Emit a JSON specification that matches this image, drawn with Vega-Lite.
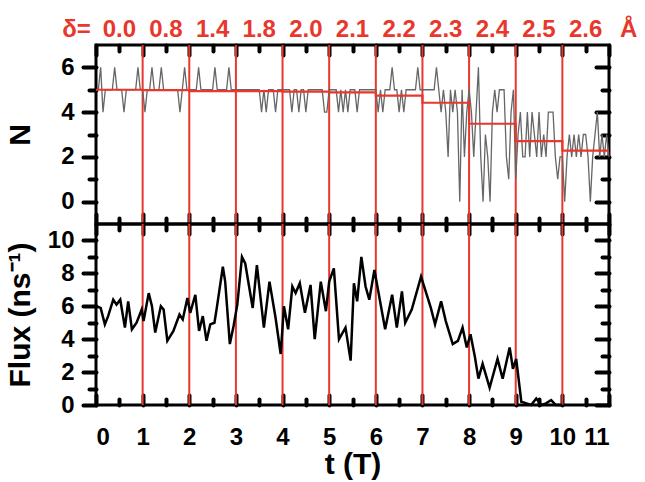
{
"$schema": "https://vega.github.io/schema/vega-lite/v6.json",
"padding": {"left": 3, "top": 16, "right": 5, "bottom": 3},
"background": "white",
"spacing": 0,
"bounds": "flush",
"config": {
  "view": {"stroke": "black", "strokeWidth": 3},
  "axis": {"domain": false, "grid": false, "ticks": true, "tickOpacity": 1, "tickColor": "black", "tickWidth": 4, "tickCap": "round", "labelFont": "Liberation Sans", "labelFontWeight": "bold", "labelFontSize": 24, "labelColor": "black", "titleFont": "Liberation Sans", "titleFontWeight": "bold", "titleFontSize": 30, "titleColor": "black", "zindex": 1}
},
"datasets": {
  "vl": [{"t":1},{"t":2},{"t":3},{"t":4},{"t":5},{"t":6},{"t":7},{"t":8},{"t":9},{"t":10}],
  "avg": [{"t":0,"v":5.0},{"t":1,"v":4.98},{"t":2,"v":4.94},{"t":3,"v":4.94},{"t":4,"v":4.92},{"t":5,"v":4.88},{"t":6,"v":4.74},{"t":7,"v":4.42},{"t":8,"v":3.48},{"t":9,"v":2.7},{"t":10,"v":2.28},{"t":11,"v":2.28}],
  "delta": [{"t":-0.42,"label":"δ="},{"t":0.5,"label":"0.0"},{"t":1.5,"label":"0.8"},{"t":2.5,"label":"1.4"},{"t":3.5,"label":"1.8"},{"t":4.5,"label":"2.0"},{"t":5.5,"label":"2.1"},{"t":6.5,"label":"2.2"},{"t":7.5,"label":"2.3"},{"t":8.5,"label":"2.4"},{"t":9.5,"label":"2.5"},{"t":10.5,"label":"2.6"},{"t":11.42,"label":"Å"}],
  "n": [{"t":0,"N":5},{"t":0.05,"N":5},{"t":0.1,"N":6},{"t":0.15,"N":4},{"t":0.2,"N":5},{"t":0.25,"N":5},{"t":0.3,"N":5},{"t":0.35,"N":5},{"t":0.4,"N":6},{"t":0.45,"N":5},{"t":0.5,"N":5},{"t":0.55,"N":5},{"t":0.6,"N":4},{"t":0.65,"N":5},{"t":0.7,"N":5},{"t":0.75,"N":5},{"t":0.8,"N":5},{"t":0.85,"N":5},{"t":0.9,"N":6},{"t":0.95,"N":5},
{"t":1,"N":5},{"t":1.05,"N":4},{"t":1.1,"N":5},{"t":1.15,"N":5},{"t":1.2,"N":6},{"t":1.25,"N":5},{"t":1.3,"N":5},{"t":1.35,"N":5},{"t":1.4,"N":6},{"t":1.45,"N":5},{"t":1.5,"N":5},{"t":1.55,"N":5},{"t":1.6,"N":5},{"t":1.65,"N":5},{"t":1.7,"N":5},{"t":1.75,"N":5},{"t":1.8,"N":4},{"t":1.85,"N":5},{"t":1.9,"N":6},{"t":1.95,"N":5},
{"t":2,"N":5},{"t":2.05,"N":5},{"t":2.1,"N":5},{"t":2.15,"N":5},{"t":2.2,"N":6},{"t":2.25,"N":5},{"t":2.3,"N":5},{"t":2.35,"N":5},{"t":2.4,"N":5},{"t":2.45,"N":5},{"t":2.5,"N":5},{"t":2.55,"N":6},{"t":2.6,"N":5},{"t":2.65,"N":5},{"t":2.7,"N":5},{"t":2.75,"N":5},{"t":2.8,"N":5},{"t":2.85,"N":6},{"t":2.9,"N":5},{"t":2.95,"N":5},
{"t":3,"N":5},{"t":3.05,"N":5},{"t":3.1,"N":5},{"t":3.15,"N":5},{"t":3.2,"N":5},{"t":3.25,"N":5},{"t":3.3,"N":5},{"t":3.35,"N":5},{"t":3.4,"N":5},{"t":3.45,"N":5},{"t":3.5,"N":5},{"t":3.55,"N":4},{"t":3.6,"N":5},{"t":3.65,"N":4},{"t":3.7,"N":5},{"t":3.75,"N":5},{"t":3.8,"N":5},{"t":3.85,"N":4},{"t":3.9,"N":5},{"t":3.95,"N":5},
{"t":4,"N":5},{"t":4.05,"N":5},{"t":4.1,"N":5},{"t":4.15,"N":5},{"t":4.2,"N":4},{"t":4.25,"N":5},{"t":4.3,"N":5},{"t":4.35,"N":4},{"t":4.4,"N":5},{"t":4.45,"N":5},{"t":4.5,"N":4},{"t":4.55,"N":5},{"t":4.6,"N":5},{"t":4.65,"N":5},{"t":4.7,"N":5},{"t":4.75,"N":5},{"t":4.8,"N":5},{"t":4.85,"N":5},{"t":4.9,"N":4},{"t":4.95,"N":4},
{"t":5,"N":5},{"t":5.05,"N":5},{"t":5.1,"N":5},{"t":5.15,"N":5},{"t":5.2,"N":4},{"t":5.25,"N":5},{"t":5.3,"N":4},{"t":5.35,"N":5},{"t":5.4,"N":4},{"t":5.45,"N":5},{"t":5.5,"N":5},{"t":5.55,"N":5},{"t":5.6,"N":4},{"t":5.65,"N":5},{"t":5.7,"N":5},{"t":5.75,"N":5},{"t":5.8,"N":5},{"t":5.85,"N":5},{"t":5.9,"N":5},{"t":5.95,"N":5},
{"t":6,"N":5},{"t":6.05,"N":4},{"t":6.1,"N":5},{"t":6.15,"N":4},{"t":6.2,"N":5},{"t":6.25,"N":5},{"t":6.3,"N":5},{"t":6.35,"N":6},{"t":6.4,"N":5},{"t":6.45,"N":5},{"t":6.5,"N":4},{"t":6.55,"N":5},{"t":6.6,"N":4},{"t":6.65,"N":5},{"t":6.7,"N":5},{"t":6.75,"N":5},{"t":6.8,"N":5},{"t":6.85,"N":5},{"t":6.9,"N":6},{"t":6.95,"N":5},
{"t":7,"N":5},{"t":7.05,"N":5},{"t":7.1,"N":5},{"t":7.15,"N":5},{"t":7.2,"N":5},{"t":7.25,"N":5},{"t":7.3,"N":6},{"t":7.35,"N":5},{"t":7.4,"N":4},{"t":7.45,"N":5},{"t":7.5,"N":4},{"t":7.55,"N":2},{"t":7.6,"N":5},{"t":7.65,"N":4},{"t":7.7,"N":5},{"t":7.75,"N":4},{"t":7.8,"N":0},{"t":7.85,"N":5},{"t":7.9,"N":2},{"t":7.95,"N":4},
{"t":8,"N":5},{"t":8.05,"N":4},{"t":8.1,"N":2},{"t":8.15,"N":4},{"t":8.2,"N":6},{"t":8.25,"N":2},{"t":8.3,"N":0},{"t":8.35,"N":3},{"t":8.4,"N":2},{"t":8.45,"N":0},{"t":8.5,"N":4},{"t":8.55,"N":5},{"t":8.6,"N":4},{"t":8.65,"N":5},{"t":8.7,"N":5},{"t":8.75,"N":5},{"t":8.8,"N":2},{"t":8.85,"N":1},{"t":8.9,"N":4},{"t":8.95,"N":5},
{"t":9,"N":1},{"t":9.05,"N":3},{"t":9.1,"N":4},{"t":9.15,"N":2},{"t":9.2,"N":2},{"t":9.25,"N":4},{"t":9.3,"N":2},{"t":9.35,"N":4},{"t":9.4,"N":3},{"t":9.45,"N":2},{"t":9.5,"N":4},{"t":9.55,"N":2},{"t":9.6,"N":3},{"t":9.65,"N":2},{"t":9.7,"N":4},{"t":9.75,"N":4},{"t":9.8,"N":4},{"t":9.85,"N":2},{"t":9.9,"N":1},{"t":9.95,"N":2},
{"t":10,"N":2},{"t":10.05,"N":0},{"t":10.1,"N":2},{"t":10.15,"N":3},{"t":10.2,"N":2},{"t":10.25,"N":3},{"t":10.3,"N":2},{"t":10.35,"N":3},{"t":10.4,"N":2},{"t":10.45,"N":3},{"t":10.5,"N":3},{"t":10.55,"N":2},{"t":10.6,"N":0},{"t":10.65,"N":2},{"t":10.7,"N":3},{"t":10.75,"N":4},{"t":10.8,"N":2},{"t":10.85,"N":3},{"t":10.9,"N":2},{"t":10.95,"N":3},{"t":11,"N":2}],
  "flux": [{"t":0,"F":6.0},{"t":0.1,"F":5.9},{"t":0.19,"F":4.9},{"t":0.26,"F":5.4},{"t":0.37,"F":6.4},{"t":0.44,"F":6.1},{"t":0.52,"F":6.4},{"t":0.62,"F":4.7},{"t":0.69,"F":6.3},{"t":0.77,"F":4.6},{"t":0.87,"F":5.0},{"t":0.98,"F":5.8},{"t":1.02,"F":5.1},{"t":1.13,"F":6.8},{"t":1.2,"F":6.0},{"t":1.27,"F":4.4},{"t":1.39,"F":6.0},{"t":1.45,"F":5.8},{"t":1.53,"F":3.9},{"t":1.66,"F":4.5},{"t":1.79,"F":5.5},{"t":1.86,"F":5.2},{"t":1.96,"F":6.5},{"t":2.02,"F":5.6},{"t":2.13,"F":6.7},{"t":2.21,"F":4.5},{"t":2.29,"F":5.4},{"t":2.37,"F":3.9},{"t":2.45,"F":4.9},{"t":2.54,"F":5.0},{"t":2.59,"F":5.9},{"t":2.72,"F":8.4},{"t":2.77,"F":7.5},{"t":2.87,"F":3.7},{"t":2.95,"F":4.8},{"t":3.03,"F":6.1},{"t":3.13,"F":9.0},{"t":3.2,"F":8.6},{"t":3.36,"F":5.9},{"t":3.45,"F":8.5},{"t":3.6,"F":4.7},{"t":3.72,"F":7.5},{"t":3.85,"F":5.3},{"t":3.96,"F":3.1},{"t":4.03,"F":6.0},{"t":4.12,"F":4.6},{"t":4.21,"F":7.2},{"t":4.28,"F":6.8},{"t":4.37,"F":7.4},{"t":4.48,"F":5.6},{"t":4.6,"F":7.3},{"t":4.69,"F":4.0},{"t":4.82,"F":7.5},{"t":4.93,"F":5.7},{"t":5.0,"F":7.5},{"t":5.1,"F":8.3},{"t":5.21,"F":4.0},{"t":5.35,"F":4.7},{"t":5.46,"F":2.7},{"t":5.53,"F":7.4},{"t":5.6,"F":6.3},{"t":5.69,"F":9.0},{"t":5.78,"F":7.2},{"t":5.86,"F":6.4},{"t":5.97,"F":8.2},{"t":6.2,"F":4.6},{"t":6.35,"F":6.7},{"t":6.45,"F":4.7},{"t":6.56,"F":6.9},{"t":6.63,"F":5.0},{"t":6.77,"F":5.8},{"t":6.97,"F":7.8},{"t":7.18,"F":5.9},{"t":7.27,"F":4.9},{"t":7.4,"F":6.3},{"t":7.5,"F":5.1},{"t":7.65,"F":3.7},{"t":7.76,"F":3.9},{"t":7.86,"F":4.7},{"t":7.95,"F":3.5},{"t":8.03,"F":4.3},{"t":8.12,"F":3.0},{"t":8.2,"F":1.6},{"t":8.29,"F":2.5},{"t":8.44,"F":1.05},{"t":8.61,"F":2.8},{"t":8.72,"F":1.6},{"t":8.87,"F":3.5},{"t":8.94,"F":2.2},{"t":9.01,"F":2.8},{"t":9.12,"F":0.2},{"t":9.23,"F":0.1},{"t":9.33,"F":0.0},{"t":9.44,"F":0.4},{"t":9.55,"F":0.0},{"t":9.65,"F":0.1},{"t":9.76,"F":0.3},{"t":9.86,"F":0.0},{"t":10.0,"F":0.0}]
},
"vconcat": [
 {
  "width": 513, "height": 179,
  "resolve": {"axis": {"x": "independent", "y": "independent"}},
  "layer": [
   {"data": {"name": "vl"}, "mark": {"type": "rule", "color": "#e8372c", "strokeWidth": 2},
    "encoding": {
     "x": {"field": "t", "type": "quantitative", "scale": {"domain": [0, 11], "nice": false}, "axis": {"orient": "top", "values": [0,1,2,3,4,5,6,7,8,9,10,11], "tickSize": -10, "labels": false, "title": null}},
     "y": {"datum": -1, "type": "quantitative", "scale": {"domain": [-1, 7], "nice": false}, "axis": {"orient": "right", "values": [0,2,4,6], "tickSize": -13, "labels": false, "title": null}},
     "y2": {"datum": 7}
    }},
   {"data": {"name": "n"}, "mark": {"type": "line", "color": "#666666", "strokeWidth": 1.3},
    "encoding": {
     "x": {"field": "t", "type": "quantitative", "axis": {"orient": "bottom", "values": [0,1,2,3,4,5,6,7,8,9,10,11], "tickSize": -10, "labels": false, "title": null}},
     "y": {"field": "N", "type": "quantitative", "axis": {"orient": "left", "values": [0,2,4,6], "tickSize": 13, "labelPadding": 9, "title": "N", "titlePadding": 25}}
    }},
   {"data": {"name": "avg"}, "mark": {"type": "line", "color": "#e8372c", "strokeWidth": 2.2, "interpolate": "step-after"},
    "encoding": {
     "x": {"field": "t", "type": "quantitative", "axis": {"orient": "bottom", "values": [0.5,1.5,2.5,3.5,4.5,5.5,6.5,7.5,8.5,9.5,10.5], "tickSize": -6, "labels": false, "title": null}},
     "y": {"field": "v", "type": "quantitative", "axis": {"orient": "left", "values": [1,3,5], "tickSize": 7, "labels": false, "title": null}}
    }},
   {"data": {"name": "delta"}, "mark": {"type": "text", "color": "#e8372c", "font": "Liberation Sans", "fontWeight": "bold", "fontSize": 24, "baseline": "alphabetic"},
    "encoding": {
     "x": {"field": "t", "type": "quantitative", "axis": {"orient": "top", "values": [0.5,1.5,2.5,3.5,4.5,5.5,6.5,7.5,8.5,9.5,10.5], "tickSize": -6, "labels": false, "title": null}},
     "y": {"datum": 7.35, "type": "quantitative", "axis": {"orient": "right", "values": [1,3,5], "tickSize": -7, "labels": false, "title": null}},
     "text": {"field": "label"}
    }}
  ]
 },
 {
  "width": 513, "height": 181,
  "resolve": {"axis": {"x": "independent", "y": "independent"}},
  "layer": [
   {"data": {"name": "vl"}, "mark": {"type": "rule", "color": "#e8372c", "strokeWidth": 2},
    "encoding": {
     "x": {"field": "t", "type": "quantitative", "scale": {"domain": [0, 11], "nice": false}, "axis": {"orient": "top", "values": [0,1,2,3,4,5,6,7,8,9,10,11], "tickSize": -10, "labels": false, "title": null}},
     "y": {"datum": 0, "type": "quantitative", "scale": {"domain": [0, 11], "nice": false}, "axis": {"orient": "right", "values": [0,2,4,6,8,10], "tickSize": -13, "labels": false, "title": null}},
     "y2": {"datum": 11}
    }},
   {"data": {"name": "flux"}, "mark": {"type": "line", "color": "black", "strokeWidth": 2.5},
    "encoding": {
     "x": {"field": "t", "type": "quantitative", "axis": {"orient": "bottom", "values": [0,1,2,3,4,5,6,7,8,9,10,11], "tickSize": -10, "labelPadding": 30, "title": "t (T)", "titlePadding": 0}},
     "y": {"field": "F", "type": "quantitative", "axis": {"orient": "left", "values": [0,2,4,6,8,10], "tickSize": 13, "labelPadding": 9, "title": "Flux (ns⁻¹)", "titlePadding": 12}}
    }},
   {"data": {"name": "vl"}, "mark": {"type": "rule", "strokeOpacity": 0},
    "encoding": {
     "x": {"field": "t", "type": "quantitative", "axis": {"orient": "bottom", "values": [0.5,1.5,2.5,3.5,4.5,5.5,6.5,7.5,8.5,9.5,10.5], "tickSize": -6, "labels": false, "title": null}},
     "y": {"datum": 0, "type": "quantitative", "axis": {"orient": "left", "values": [1,3,5,7,9], "tickSize": 7, "labels": false, "title": null}},
     "y2": {"datum": 11}
    }},
   {"data": {"name": "vl"}, "mark": {"type": "rule", "strokeOpacity": 0},
    "encoding": {
     "x": {"field": "t", "type": "quantitative", "axis": {"orient": "top", "values": [0.5,1.5,2.5,3.5,4.5,5.5,6.5,7.5,8.5,9.5,10.5], "tickSize": -6, "labels": false, "title": null}},
     "y": {"datum": 0, "type": "quantitative", "axis": {"orient": "right", "values": [1,3,5,7,9], "tickSize": -7, "labels": false, "title": null}},
     "y2": {"datum": 11}
    }}
  ]
 }
]
}
